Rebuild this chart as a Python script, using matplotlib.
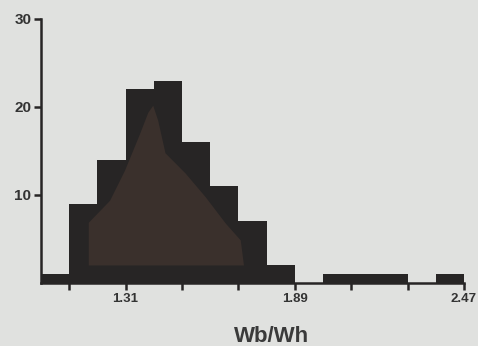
import numpy as np
import matplotlib
matplotlib.use("Agg")
import matplotlib.pyplot as plt

# Histogram data
bin_start = 1.02
bin_width = 0.58 / 6
counts = [1, 9, 14, 22, 23, 16, 11, 7, 2, 0, 1, 1, 1, 0, 1]

# Inner lighter silhouette (frequency outline) inside the bars
inner_x = [1.182, 1.182, 1.255, 1.306, 1.358, 1.386, 1.403, 1.420, 1.445, 1.514, 1.583, 1.652, 1.703, 1.714]
inner_y = [2.05, 6.9, 9.4, 12.8, 17.0, 19.4, 20.2, 18.5, 14.8, 12.5, 9.8, 6.8, 4.9, 2.05]
inner_base = 2.05

x_ticks = [1.31 - 0.58 / 3 * 1 + 0.58 / 3 * k for k in range(8)]
x_labels = ["", "1.31", "", "", "1.89", "", "", "2.47"]
y_ticks = [10, 20, 30]
y_labels = ["10", "20", "30"]
xlabel = "Wb/Wh"

bg = "#e0e1df"
bar_color = "#272525"
inner_color = "#3a302c"

plt.rcParams['font.family'] = ['Liberation Sans', 'DejaVu Sans']

fig = plt.figure(figsize=(4.78, 3.46), dpi=100, facecolor=bg)
ax = fig.add_axes([41 / 478, (346 - 283) / 346, (464 - 41) / 478, (283 - 19) / 346])
ax.set_facecolor(bg)

edges = [bin_start + i * bin_width for i in range(len(counts))]
ax.bar(edges, counts, width=bin_width, align='edge', color=bar_color, linewidth=0)

ax.fill_between(inner_x, inner_base, inner_y, color=inner_color, linewidth=0)

ax.set_xlim(bin_start, bin_start + bin_width * len(counts))
ax.set_ylim(0, 30)

for s in ['top', 'right']:
    ax.spines[s].set_visible(False)
for s in ['left', 'bottom']:
    ax.spines[s].set_linewidth(1.8)
    ax.spines[s].set_color(bar_color)

ax.set_xticks(x_ticks)
ax.set_xticklabels(x_labels, fontsize=9.5, fontweight='bold', color='#333333')
ax.set_yticks(y_ticks)
ax.set_yticklabels(y_labels, fontsize=11, fontweight='bold', color='#333333')
ax.tick_params(axis='both', direction='out', length=5, width=1.8, color=bar_color, pad=2)

fig.text(272 / 478, 1 - 336 / 346, xlabel, ha='center', va='center', fontsize=16,
         fontweight='bold', color='#3a3a3a')

fig.savefig("out.png", dpi=100, facecolor=bg)
